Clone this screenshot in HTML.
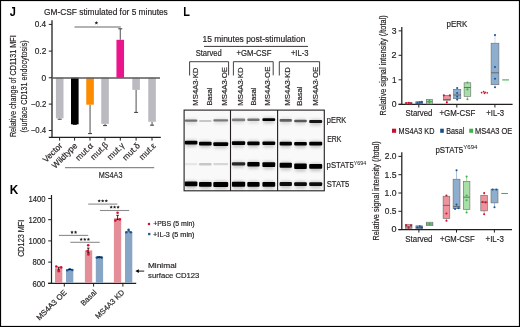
<!DOCTYPE html>
<html><head><meta charset="utf-8"><style>
html,body{margin:0;padding:0;background:#fff;}
svg{display:block;font-family:"Liberation Sans", sans-serif;will-change:transform;}
</style></head><body>
<svg width="520" height="327" viewBox="0 0 520 327">
<text x="9.73" y="16.3" font-size="12" font-weight="bold" fill="#000" stroke="#000" stroke-width="0" textLength="6.12" lengthAdjust="spacingAndGlyphs" >J</text>
<text x="44.08" y="14.6" font-size="8.7" font-weight="normal" fill="#231f20" stroke="#231f20" stroke-width="0.18" textLength="123.71" lengthAdjust="spacingAndGlyphs" >GM-CSF stimulated for 5 minutes</text>
<line x1="52" y1="20.3" x2="52" y2="137.9" stroke="#231f20" stroke-width="1.3" />
<line x1="48.8" y1="24.4" x2="52" y2="24.4" stroke="#231f20" stroke-width="1" />
<text x="34.67" y="27.35" font-size="8.6" font-weight="normal" fill="#231f20" stroke="#231f20" stroke-width="0.18" textLength="11.46" lengthAdjust="spacingAndGlyphs" >0.4</text>
<line x1="48.8" y1="51.1" x2="52" y2="51.1" stroke="#231f20" stroke-width="1" />
<text x="34.66" y="54.05" font-size="8.6" font-weight="normal" fill="#231f20" stroke="#231f20" stroke-width="0.18" textLength="11.66" lengthAdjust="spacingAndGlyphs" >0.2</text>
<line x1="48.8" y1="77.75" x2="52" y2="77.75" stroke="#231f20" stroke-width="1" />
<text x="41.56" y="80.7" font-size="8.6" font-weight="normal" fill="#231f20" stroke="#231f20" stroke-width="0.18" textLength="4.66" lengthAdjust="spacingAndGlyphs" >0</text>
<line x1="48.8" y1="104.1" x2="52" y2="104.1" stroke="#231f20" stroke-width="1" />
<text x="30.81" y="107.05" font-size="8.6" font-weight="normal" fill="#231f20" stroke="#231f20" stroke-width="0.18" textLength="15.5" lengthAdjust="spacingAndGlyphs" >−0.2</text>
<line x1="48.8" y1="130.5" x2="52" y2="130.5" stroke="#231f20" stroke-width="1" />
<text x="30.81" y="133.45" font-size="8.6" font-weight="normal" fill="#231f20" stroke="#231f20" stroke-width="0.18" textLength="15.31" lengthAdjust="spacingAndGlyphs" >−0.4</text>
<line x1="48.8" y1="137.3" x2="160.8" y2="137.3" stroke="#231f20" stroke-width="1.2" />
<line x1="59.6" y1="137.3" x2="59.6" y2="140.6" stroke="#231f20" stroke-width="1" />
<line x1="74.6" y1="137.3" x2="74.6" y2="140.6" stroke="#231f20" stroke-width="1" />
<line x1="90" y1="137.3" x2="90" y2="140.6" stroke="#231f20" stroke-width="1" />
<line x1="105" y1="137.3" x2="105" y2="140.6" stroke="#231f20" stroke-width="1" />
<line x1="120.3" y1="137.3" x2="120.3" y2="140.6" stroke="#231f20" stroke-width="1" />
<line x1="136.1" y1="137.3" x2="136.1" y2="140.6" stroke="#231f20" stroke-width="1" />
<line x1="152" y1="137.3" x2="152" y2="140.6" stroke="#231f20" stroke-width="1" />
<line x1="59.7" y1="118.4" x2="59.7" y2="119.2" stroke="#3a3a3a" stroke-width="0.9" />
<line x1="57.7" y1="119.2" x2="61.7" y2="119.2" stroke="#3a3a3a" stroke-width="1" />
<rect x="55.9" y="77.75" width="7.6" height="40.65" fill="#bbbac0" stroke="none" stroke-width="0" />
<line x1="74.8" y1="124.3" x2="74.8" y2="124.5" stroke="#3a3a3a" stroke-width="0.9" />
<line x1="72.8" y1="124.5" x2="76.8" y2="124.5" stroke="#3a3a3a" stroke-width="1" />
<rect x="71.0" y="77.75" width="7.6" height="46.55" fill="#000" stroke="none" stroke-width="0" />
<line x1="90.05" y1="104.7" x2="90.05" y2="133.6" stroke="#3a3a3a" stroke-width="0.9" />
<line x1="88.05" y1="133.6" x2="92.05" y2="133.6" stroke="#3a3a3a" stroke-width="1" />
<rect x="86.25" y="77.75" width="7.6" height="26.95" fill="#fd8b00" stroke="none" stroke-width="0" />
<line x1="105.05" y1="123.9" x2="105.05" y2="125.6" stroke="#3a3a3a" stroke-width="0.9" />
<line x1="103.05" y1="125.6" x2="107.05" y2="125.6" stroke="#3a3a3a" stroke-width="1" />
<rect x="101.25" y="77.75" width="7.6" height="46.15" fill="#bbbac0" stroke="none" stroke-width="0" />
<line x1="120.25" y1="39.8" x2="120.25" y2="28.8" stroke="#3a3a3a" stroke-width="0.9" />
<line x1="118.25" y1="28.8" x2="122.25" y2="28.8" stroke="#3a3a3a" stroke-width="1" />
<rect x="116.45" y="39.8" width="7.6" height="37.95" fill="#ea148c" stroke="none" stroke-width="0" />
<line x1="136.1" y1="89.9" x2="136.1" y2="112.4" stroke="#3a3a3a" stroke-width="0.9" />
<line x1="134.1" y1="112.4" x2="138.1" y2="112.4" stroke="#3a3a3a" stroke-width="1" />
<rect x="132.3" y="77.75" width="7.6" height="12.15" fill="#bbbac0" stroke="none" stroke-width="0" />
<line x1="152.05" y1="121.8" x2="152.05" y2="125.2" stroke="#3a3a3a" stroke-width="0.9" />
<line x1="150.05" y1="125.2" x2="154.05" y2="125.2" stroke="#3a3a3a" stroke-width="1" />
<rect x="148.25" y="77.75" width="7.6" height="44.05" fill="#bbbac0" stroke="none" stroke-width="0" />
<line x1="52" y1="77.9" x2="160" y2="77.9" stroke="#5a5a5c" stroke-width="1.5" />
<line x1="74.5" y1="26.9" x2="120.8" y2="26.9" stroke="#9a9a9a" stroke-width="1.5" />
<polygon points="96.40,21.00 96.96,22.13 98.21,22.31 97.30,23.19 97.52,24.44 96.40,23.85 95.28,24.44 95.50,23.19 94.59,22.31 95.84,22.13" fill="#231f20"/>
<text id="jx0" transform="translate(62.9,146.2) rotate(-45)" font-size="8.5" text-anchor="end" fill="#231f20" stroke="#231f20" stroke-width="0.18" textLength="23.62" lengthAdjust="spacingAndGlyphs">Vector</text>
<text id="jx1" transform="translate(77.9,146.3) rotate(-45)" font-size="8.5" text-anchor="end" fill="#231f20" stroke="#231f20" stroke-width="0.18" textLength="31.94" lengthAdjust="spacingAndGlyphs">Wildtype</text>
<text id="jx2" transform="translate(93.6,146.3) rotate(-45)" font-size="8.5" text-anchor="end" fill="#231f20" stroke="#231f20" stroke-width="0.18" textLength="21.02" lengthAdjust="spacingAndGlyphs">mut.α</text>
<text id="jx3" transform="translate(108.6,145.6) rotate(-45)" font-size="8.5" text-anchor="end" fill="#231f20" stroke="#231f20" stroke-width="0.18" textLength="20.99" lengthAdjust="spacingAndGlyphs">mut.β</text>
<text id="jx4" transform="translate(125.0,146.1) rotate(-45)" font-size="8.5" text-anchor="end" fill="#231f20" stroke="#231f20" stroke-width="0.18" textLength="20.37" lengthAdjust="spacingAndGlyphs">mut.γ</text>
<text id="jx5" transform="translate(140.6,146.3) rotate(-45)" font-size="8.5" text-anchor="end" fill="#231f20" stroke="#231f20" stroke-width="0.18" textLength="20.84" lengthAdjust="spacingAndGlyphs">mut.δ</text>
<text id="jx6" transform="translate(156.5,146.3) rotate(-45)" font-size="8.5" text-anchor="end" fill="#231f20" stroke="#231f20" stroke-width="0.18" textLength="19.91" lengthAdjust="spacingAndGlyphs">mut.ε</text>
<line x1="65" y1="167.7" x2="154.2" y2="167.7" stroke="#8a8a8a" stroke-width="1.2" />
<text x="98.7" y="177.7" font-size="9.5" font-weight="normal" fill="#231f20" stroke="#231f20" stroke-width="0.18" textLength="23.72" lengthAdjust="spacingAndGlyphs" >MS4A3</text>
<text transform="translate(15.8,137.09) rotate(-90)" font-size="9.4" fill="#231f20" stroke="#231f20" stroke-width="0.18" textLength="101.76" lengthAdjust="spacingAndGlyphs">Relative change of CD1131 MFI</text>
<text transform="translate(26.6,132.55) rotate(-90)" font-size="9.4" fill="#231f20" stroke="#231f20" stroke-width="0.18" textLength="92.19" lengthAdjust="spacingAndGlyphs">(surface CD131 endocytosis)</text>
<text x="9.8" y="193.7" font-size="12" font-weight="bold" fill="#000" stroke="#000" stroke-width="0" textLength="8.51" lengthAdjust="spacingAndGlyphs" >K</text>
<line x1="51.5" y1="195" x2="51.5" y2="283.9" stroke="#231f20" stroke-width="1.2" />
<line x1="48.2" y1="198.5" x2="51.5" y2="198.5" stroke="#231f20" stroke-width="1" />
<text x="28.43" y="201.8" font-size="8.3" font-weight="normal" fill="#231f20" stroke="#231f20" stroke-width="0.18" textLength="16.98" lengthAdjust="spacingAndGlyphs" >1400</text>
<line x1="48.2" y1="219.7" x2="51.5" y2="219.7" stroke="#231f20" stroke-width="1" />
<text x="28.43" y="223.0" font-size="8.3" font-weight="normal" fill="#231f20" stroke="#231f20" stroke-width="0.18" textLength="16.98" lengthAdjust="spacingAndGlyphs" >1200</text>
<line x1="48.2" y1="240.9" x2="51.5" y2="240.9" stroke="#231f20" stroke-width="1" />
<text x="28.43" y="244.2" font-size="8.3" font-weight="normal" fill="#231f20" stroke="#231f20" stroke-width="0.18" textLength="16.98" lengthAdjust="spacingAndGlyphs" >1000</text>
<line x1="48.2" y1="262.1" x2="51.5" y2="262.1" stroke="#231f20" stroke-width="1" />
<text x="32.57" y="265.4" font-size="8.3" font-weight="normal" fill="#231f20" stroke="#231f20" stroke-width="0.18" textLength="12.82" lengthAdjust="spacingAndGlyphs" >800</text>
<line x1="48.2" y1="283.3" x2="51.5" y2="283.3" stroke="#231f20" stroke-width="1" />
<text x="32.51" y="286.6" font-size="8.3" font-weight="normal" fill="#231f20" stroke="#231f20" stroke-width="0.18" textLength="12.88" lengthAdjust="spacingAndGlyphs" >600</text>
<text transform="translate(23.75,256.86) rotate(-90)" font-size="9.0" fill="#231f20" stroke="#231f20" stroke-width="0.18" textLength="37.03" lengthAdjust="spacingAndGlyphs">CD123 MFI</text>
<line x1="48.2" y1="283.3" x2="136.2" y2="283.3" stroke="#231f20" stroke-width="1.2" />
<line x1="64.3" y1="283.3" x2="64.3" y2="286.6" stroke="#231f20" stroke-width="1" />
<line x1="93.6" y1="283.3" x2="93.6" y2="286.6" stroke="#231f20" stroke-width="1" />
<line x1="122.9" y1="283.3" x2="122.9" y2="286.6" stroke="#231f20" stroke-width="1" />
<rect x="55.0" y="268.2" width="7.3" height="14.6" fill="#e38e99" stroke="none" stroke-width="0" />
<rect x="66.0" y="269.5" width="7.3" height="13.3" fill="#87a6c5" stroke="none" stroke-width="0" />
<rect x="84.9" y="250.4" width="7.3" height="32.4" fill="#e38e99" stroke="none" stroke-width="0" />
<rect x="95.8" y="257.0" width="7.3" height="25.8" fill="#87a6c5" stroke="none" stroke-width="0" />
<rect x="113.9" y="218.2" width="7.3" height="64.6" fill="#e38e99" stroke="none" stroke-width="0" />
<rect x="125.0" y="232.0" width="7.3" height="50.8" fill="#87a6c5" stroke="none" stroke-width="0" />
<line x1="58.7" y1="267.2" x2="58.7" y2="270.0" stroke="#000" stroke-width="0.8" />
<line x1="57.400000000000006" y1="267.2" x2="60.0" y2="267.2" stroke="#000" stroke-width="0.8" />
<line x1="57.400000000000006" y1="270.0" x2="60.0" y2="270.0" stroke="#000" stroke-width="0.8" />
<circle cx="56.3" cy="266.5" r="1.3" fill="#d7102f"/>
<circle cx="61.2" cy="267.4" r="1.3" fill="#d7102f"/>
<circle cx="58.8" cy="271.2" r="1.3" fill="#d7102f"/>
<circle cx="67.3" cy="270.2" r="1.3" fill="#1b5597"/>
<circle cx="69.7" cy="269.3" r="1.3" fill="#1b5597"/>
<circle cx="72.3" cy="270.0" r="1.3" fill="#1b5597"/>
<line x1="68.2" y1="269.4" x2="71.6" y2="269.4" stroke="#000" stroke-width="0.9" />
<line x1="88.3" y1="248.1" x2="88.3" y2="252.8" stroke="#000" stroke-width="0.8" />
<line x1="87.0" y1="248.1" x2="89.6" y2="248.1" stroke="#000" stroke-width="0.8" />
<line x1="87.0" y1="252.8" x2="89.6" y2="252.8" stroke="#000" stroke-width="0.8" />
<circle cx="88.2" cy="245.2" r="1.3" fill="#d7102f"/>
<circle cx="87.6" cy="251.0" r="1.3" fill="#d7102f"/>
<circle cx="88.4" cy="254.4" r="1.3" fill="#d7102f"/>
<circle cx="96.9" cy="257.6" r="1.3" fill="#1b5597"/>
<circle cx="99.3" cy="257.2" r="1.3" fill="#1b5597"/>
<circle cx="101.7" cy="257.6" r="1.3" fill="#1b5597"/>
<line x1="97" y1="257.0" x2="101.6" y2="257.0" stroke="#000" stroke-width="0.9" />
<line x1="117.6" y1="215.3" x2="117.6" y2="219.6" stroke="#000" stroke-width="0.8" />
<line x1="116.3" y1="215.3" x2="118.89999999999999" y2="215.3" stroke="#000" stroke-width="0.8" />
<line x1="116.3" y1="219.6" x2="118.89999999999999" y2="219.6" stroke="#000" stroke-width="0.8" />
<circle cx="117.6" cy="212.8" r="1.3" fill="#d7102f"/>
<circle cx="115.3" cy="220.6" r="1.3" fill="#d7102f"/>
<circle cx="119.8" cy="219.4" r="1.3" fill="#d7102f"/>
<circle cx="128.6" cy="229.8" r="1.3" fill="#1b5597"/>
<circle cx="126.3" cy="232.3" r="1.3" fill="#1b5597"/>
<circle cx="130.8" cy="232.3" r="1.3" fill="#1b5597"/>
<line x1="127.3" y1="231.2" x2="130" y2="231.2" stroke="#000" stroke-width="0.8" />
<line x1="58.9" y1="235.4" x2="88.2" y2="235.4" stroke="#8c8c8c" stroke-width="1.1" />
<polygon points="72.00,230.60 72.50,231.61 73.62,231.77 72.81,232.56 73.00,233.68 72.00,233.15 71.00,233.68 71.19,232.56 70.38,231.77 71.50,231.61" fill="#231f20"/>
<polygon points="75.60,230.60 76.10,231.61 77.22,231.77 76.41,232.56 76.60,233.68 75.60,233.15 74.60,233.68 74.79,232.56 73.98,231.77 75.10,231.61" fill="#231f20"/>
<line x1="70.3" y1="242.3" x2="99.7" y2="242.3" stroke="#8c8c8c" stroke-width="1.1" />
<polygon points="81.20,237.70 81.70,238.71 82.82,238.87 82.01,239.66 82.20,240.78 81.20,240.25 80.20,240.78 80.39,239.66 79.58,238.87 80.70,238.71" fill="#231f20"/>
<polygon points="84.80,237.70 85.30,238.71 86.42,238.87 85.61,239.66 85.80,240.78 84.80,240.25 83.80,240.78 83.99,239.66 83.18,238.87 84.30,238.71" fill="#231f20"/>
<polygon points="88.40,237.70 88.90,238.71 90.02,238.87 89.21,239.66 89.40,240.78 88.40,240.25 87.40,240.78 87.59,239.66 86.78,238.87 87.90,238.71" fill="#231f20"/>
<line x1="88.2" y1="204.1" x2="117.4" y2="204.1" stroke="#8c8c8c" stroke-width="1.1" />
<polygon points="99.20,199.20 99.70,200.21 100.82,200.37 100.01,201.16 100.20,202.28 99.20,201.75 98.20,202.28 98.39,201.16 97.58,200.37 98.70,200.21" fill="#231f20"/>
<polygon points="102.70,199.20 103.20,200.21 104.32,200.37 103.51,201.16 103.70,202.28 102.70,201.75 101.70,202.28 101.89,201.16 101.08,200.37 102.20,200.21" fill="#231f20"/>
<polygon points="106.30,199.20 106.80,200.21 107.92,200.37 107.11,201.16 107.30,202.28 106.30,201.75 105.30,202.28 105.49,201.16 104.68,200.37 105.80,200.21" fill="#231f20"/>
<line x1="99.9" y1="210.5" x2="129.2" y2="210.5" stroke="#8c8c8c" stroke-width="1.1" />
<polygon points="111.20,205.50 111.70,206.51 112.82,206.67 112.01,207.46 112.20,208.58 111.20,208.05 110.20,208.58 110.39,207.46 109.58,206.67 110.70,206.51" fill="#231f20"/>
<polygon points="114.60,205.50 115.10,206.51 116.22,206.67 115.41,207.46 115.60,208.58 114.60,208.05 113.60,208.58 113.79,207.46 112.98,206.67 114.10,206.51" fill="#231f20"/>
<polygon points="118.10,205.50 118.60,206.51 119.72,206.67 118.91,207.46 119.10,208.58 118.10,208.05 117.10,208.58 117.29,207.46 116.48,206.67 117.60,206.51" fill="#231f20"/>
<circle cx="149" cy="224" r="1.25" fill="#d7102f"/>
<text x="153.15" y="226.3" font-size="6.4" font-weight="normal" fill="#231f20" stroke="#231f20" stroke-width="0.18" textLength="41.49" lengthAdjust="spacingAndGlyphs" >+PBS (5 min)</text>
<rect x="148.1" y="232.9" width="2.3" height="2.3" fill="#1b5597" stroke="none" stroke-width="0" />
<text x="153.14" y="236.7" font-size="6.4" font-weight="normal" fill="#231f20" stroke="#231f20" stroke-width="0.18" textLength="41.33" lengthAdjust="spacingAndGlyphs" >+IL-3 (5 min)</text>
<line x1="137.2" y1="271.1" x2="144.2" y2="271.1" stroke="#000" stroke-width="0.9" />
<path d="M135.3 271.1 L138.8 269.2 L138.8 273.0 Z" fill="#000"/>
<text x="147.91" y="268.4" font-size="7.9" font-weight="normal" fill="#231f20" stroke="#231f20" stroke-width="0.18" textLength="28.75" lengthAdjust="spacingAndGlyphs" >Minimal</text>
<text x="148.09" y="278.2" font-size="7.9" font-weight="normal" fill="#231f20" stroke="#231f20" stroke-width="0.18" textLength="51.24" lengthAdjust="spacingAndGlyphs" >surface CD123</text>
<text id="kx0" transform="translate(67.2,293.0) rotate(-45)" font-size="7.7" text-anchor="end" fill="#231f20" stroke="#231f20" stroke-width="0.18" textLength="39.29" lengthAdjust="spacingAndGlyphs">MS4A3 OE</text>
<text id="kx1" transform="translate(97.2,292.8) rotate(-45)" font-size="7.6" text-anchor="end" fill="#231f20" stroke="#231f20" stroke-width="0.18" textLength="19.01" lengthAdjust="spacingAndGlyphs">Basal</text>
<text id="kx2" transform="translate(124.9,292.8) rotate(-45)" font-size="7.6" text-anchor="end" fill="#231f20" stroke="#231f20" stroke-width="0.18" textLength="37.59" lengthAdjust="spacingAndGlyphs">MS4A3 KD</text>
<text x="183.16" y="16.0" font-size="12" font-weight="bold" fill="#000" stroke="#000" stroke-width="0" textLength="6.67" lengthAdjust="spacingAndGlyphs" >L</text>
<text x="202.47" y="41.6" font-size="8.5" font-weight="normal" fill="#231f20" stroke="#231f20" stroke-width="0.18" textLength="102.89" lengthAdjust="spacingAndGlyphs" >15 minutes post-stimulation</text>
<line x1="204" y1="46.4" x2="308" y2="46.4" stroke="#231f20" stroke-width="0.9" />
<text x="195.66" y="55.6" font-size="8.6" font-weight="normal" fill="#231f20" stroke="#231f20" stroke-width="0.18" textLength="26.13" lengthAdjust="spacingAndGlyphs" >Starved</text>
<text x="236.51" y="55.6" font-size="8.6" font-weight="normal" fill="#231f20" stroke="#231f20" stroke-width="0.18" textLength="34.9" lengthAdjust="spacingAndGlyphs" >+GM-CSF</text>
<text x="290.92" y="55.6" font-size="8.6" font-weight="normal" fill="#231f20" stroke="#231f20" stroke-width="0.18" textLength="17.62" lengthAdjust="spacingAndGlyphs" >+IL-3</text>
<path d="M189.6 75.5 V61.7 H228.6 V75.3" fill="none" stroke="#231f20" stroke-width="0.85"/>
<path d="M233.4 75.5 V61.7 H273.2 V75.3" fill="none" stroke="#231f20" stroke-width="0.85"/>
<path d="M279.3 75.5 V61.7 H319.6 V75.3" fill="none" stroke="#231f20" stroke-width="0.85"/>
<text transform="translate(197.5,105.63) rotate(-90)" font-size="7.1" fill="#231f20" stroke="#231f20" stroke-width="0.18" textLength="37.99" lengthAdjust="spacingAndGlyphs">MS4A3∙KD</text>
<text transform="translate(211.9,105.6) rotate(-90)" font-size="7.1" fill="#231f20" stroke="#231f20" stroke-width="0.18" textLength="18.08" lengthAdjust="spacingAndGlyphs">Basal</text>
<text transform="translate(226.6,105.64) rotate(-90)" font-size="7.1" fill="#231f20" stroke="#231f20" stroke-width="0.18" textLength="38.66" lengthAdjust="spacingAndGlyphs">MS4A3∙OE</text>
<text transform="translate(242.8,105.64) rotate(-90)" font-size="7.1" fill="#231f20" stroke="#231f20" stroke-width="0.18" textLength="38.2" lengthAdjust="spacingAndGlyphs">MS4A3∙KD</text>
<text transform="translate(255.8,105.6) rotate(-90)" font-size="7.1" fill="#231f20" stroke="#231f20" stroke-width="0.18" textLength="18.08" lengthAdjust="spacingAndGlyphs">Basal</text>
<text transform="translate(270.4,105.64) rotate(-90)" font-size="7.1" fill="#231f20" stroke="#231f20" stroke-width="0.18" textLength="38.97" lengthAdjust="spacingAndGlyphs">MS4A3∙OE</text>
<text transform="translate(289.5,105.64) rotate(-90)" font-size="7.1" fill="#231f20" stroke="#231f20" stroke-width="0.18" textLength="38.61" lengthAdjust="spacingAndGlyphs">MS4A3∙KD</text>
<text transform="translate(302.2,105.63) rotate(-90)" font-size="7.1" fill="#231f20" stroke="#231f20" stroke-width="0.18" textLength="19.14" lengthAdjust="spacingAndGlyphs">Basal</text>
<text transform="translate(317.6,105.64) rotate(-90)" font-size="7.1" fill="#231f20" stroke="#231f20" stroke-width="0.18" textLength="38.87" lengthAdjust="spacingAndGlyphs">MS4A3∙OE</text>
<defs><filter id="bl" x="-20%" y="-150%" width="140%" height="400%"><feGaussianBlur stdDeviation="0.75"/></filter><filter id="bl2" x="-20%" y="-150%" width="140%" height="400%"><feGaussianBlur stdDeviation="1.6"/></filter></defs>
<rect x="184" y="110" width="140.5" height="81" fill="#f9f9f9" stroke="none" stroke-width="0" />
<g filter="url(#bl2)">
<rect x="185.8" y="118.55" width="10.6" height="5.8" fill="rgb(224,224,224)"/>
<rect x="214.3" y="118.25" width="12.9" height="5.8" fill="rgb(226,226,226)"/>
<rect x="232.9" y="117.6" width="11.3" height="6.1" fill="rgb(227,227,227)"/>
<rect x="248.3" y="117.5" width="10.3" height="6.1" fill="rgb(224,224,224)"/>
<rect x="263.4" y="117.2" width="10.8" height="6.3" fill="rgb(199,199,199)"/>
<rect x="280.6" y="117.9" width="10.3" height="6.3" fill="rgb(220,220,220)"/>
<rect x="295.2" y="118.7" width="10.6" height="6.1" fill="rgb(219,219,219)"/>
<rect x="310.2" y="119.1" width="11.0" height="6.5" fill="rgb(205,205,205)"/>
<rect x="185.8" y="139.8" width="10.6" height="7.1" fill="rgb(199,199,199)"/>
<rect x="200.0" y="140.8" width="10.6" height="7.1" fill="rgb(199,199,199)"/>
<rect x="214.3" y="141.2" width="12.9" height="7.3" fill="rgb(199,199,199)"/>
<rect x="232.9" y="140.3" width="11.3" height="7.3" fill="rgb(199,199,199)"/>
<rect x="248.3" y="140.5" width="10.3" height="7.3" fill="rgb(199,199,199)"/>
<rect x="263.4" y="140.4" width="10.8" height="7.1" fill="rgb(199,199,199)"/>
<rect x="280.6" y="140.8" width="10.3" height="7.1" fill="rgb(199,199,199)"/>
<rect x="295.2" y="141.0" width="10.6" height="7.1" fill="rgb(199,199,199)"/>
<rect x="310.2" y="140.8" width="11.0" height="7.1" fill="rgb(199,199,199)"/>
<rect x="232.9" y="161.3" width="11.3" height="6.7" fill="rgb(207,207,207)"/>
<rect x="248.3" y="161.0" width="10.3" height="7.9" fill="rgb(199,199,199)"/>
<rect x="263.4" y="161.3" width="10.8" height="8.1" fill="rgb(199,199,199)"/>
<rect x="280.6" y="161.8" width="10.3" height="8.5" fill="rgb(199,199,199)"/>
<rect x="295.2" y="162.6" width="10.6" height="8.9" fill="rgb(199,199,199)"/>
<rect x="310.2" y="163.1" width="11.0" height="8.1" fill="rgb(199,199,199)"/>
<rect x="185.8" y="180.6" width="10.6" height="8.1" fill="rgb(199,199,199)"/>
<rect x="200.0" y="181.0" width="10.6" height="8.3" fill="rgb(199,199,199)"/>
<rect x="214.3" y="180.9" width="12.9" height="8.5" fill="rgb(199,199,199)"/>
<rect x="232.9" y="180.8" width="11.3" height="8.5" fill="rgb(199,199,199)"/>
<rect x="248.3" y="181.0" width="10.3" height="8.3" fill="rgb(199,199,199)"/>
<rect x="263.4" y="181.1" width="10.8" height="8.1" fill="rgb(199,199,199)"/>
<rect x="280.6" y="181.1" width="10.3" height="7.5" fill="rgb(201,201,201)"/>
<rect x="295.2" y="181.2" width="10.6" height="7.3" fill="rgb(201,201,201)"/>
<rect x="310.2" y="181.3" width="11.0" height="7.1" fill="rgb(202,202,202)"/>
</g>
<g filter="url(#bl)">
<rect x="184.8" y="119.55" width="12.6" height="2.3" rx="1.0" fill="rgb(115,115,115)"/>
<rect x="199.0" y="120.0" width="12.6" height="2.0" rx="1.0" fill="rgb(199,199,199)"/>
<rect x="213.3" y="119.25" width="14.9" height="2.3" rx="1.0" fill="rgb(122,122,122)"/>
<rect x="231.9" y="118.6" width="13.3" height="2.6" rx="1.0" fill="rgb(128,128,128)"/>
<rect x="247.3" y="118.5" width="12.3" height="2.6" rx="1.0" fill="rgb(115,115,115)"/>
<rect x="262.4" y="118.2" width="12.8" height="2.8" rx="1.0" fill="rgb(3,3,3)"/>
<rect x="279.6" y="118.9" width="12.3" height="2.8" rx="1.0" fill="rgb(97,97,97)"/>
<rect x="294.2" y="119.7" width="12.6" height="2.6" rx="1.0" fill="rgb(89,89,89)"/>
<rect x="309.2" y="120.1" width="13.0" height="3.0" rx="1.0" fill="rgb(25,25,25)"/>
<rect x="184.8" y="140.8" width="12.6" height="3.6" rx="1.0" fill="rgb(3,3,3)"/>
<rect x="199.0" y="141.8" width="12.6" height="3.6" rx="1.0" fill="rgb(3,3,3)"/>
<rect x="213.3" y="142.2" width="14.9" height="3.8" rx="1.0" fill="rgb(3,3,3)"/>
<rect x="231.9" y="141.3" width="13.3" height="3.8" rx="1.0" fill="rgb(3,3,3)"/>
<rect x="247.3" y="141.5" width="12.3" height="3.8" rx="1.0" fill="rgb(3,3,3)"/>
<rect x="262.4" y="141.4" width="12.8" height="3.6" rx="1.0" fill="rgb(3,3,3)"/>
<rect x="279.6" y="141.8" width="12.3" height="3.6" rx="1.0" fill="rgb(3,3,3)"/>
<rect x="294.2" y="142.0" width="12.6" height="3.6" rx="1.0" fill="rgb(3,3,3)"/>
<rect x="309.2" y="141.8" width="13.0" height="3.6" rx="1.0" fill="rgb(3,3,3)"/>
<rect x="184.8" y="163.0" width="12.6" height="2.2" rx="1.0" fill="rgb(230,230,230)"/>
<rect x="199.0" y="163.1" width="12.6" height="2.4" rx="1.0" fill="rgb(199,199,199)"/>
<rect x="213.3" y="163.1" width="14.9" height="2.2" rx="1.0" fill="rgb(214,214,214)"/>
<rect x="231.9" y="162.3" width="13.3" height="3.2" rx="1.0" fill="rgb(38,38,38)"/>
<rect x="247.3" y="162.0" width="12.3" height="4.4" rx="1.0" fill="rgb(3,3,3)"/>
<rect x="262.4" y="162.3" width="12.8" height="4.6" rx="1.0" fill="rgb(3,3,3)"/>
<rect x="279.6" y="162.8" width="12.3" height="5.0" rx="1.0" fill="rgb(3,3,3)"/>
<rect x="294.2" y="163.6" width="12.6" height="5.4" rx="1.0" fill="rgb(3,3,3)"/>
<rect x="309.2" y="164.1" width="13.0" height="4.6" rx="1.0" fill="rgb(3,3,3)"/>
<rect x="184.8" y="181.6" width="12.6" height="4.6" rx="1.0" fill="rgb(3,3,3)"/>
<rect x="199.0" y="182.0" width="12.6" height="4.8" rx="1.0" fill="rgb(3,3,3)"/>
<rect x="213.3" y="181.9" width="14.9" height="5.0" rx="1.0" fill="rgb(3,3,3)"/>
<rect x="231.9" y="181.8" width="13.3" height="5.0" rx="1.0" fill="rgb(3,3,3)"/>
<rect x="247.3" y="182.0" width="12.3" height="4.8" rx="1.0" fill="rgb(3,3,3)"/>
<rect x="262.4" y="182.1" width="12.8" height="4.6" rx="1.0" fill="rgb(3,3,3)"/>
<rect x="279.6" y="182.1" width="12.3" height="4.0" rx="1.0" fill="rgb(8,8,8)"/>
<rect x="294.2" y="182.2" width="12.6" height="3.8" rx="1.0" fill="rgb(8,8,8)"/>
<rect x="309.2" y="182.3" width="13.0" height="3.6" rx="1.0" fill="rgb(13,13,13)"/>
</g>
<rect x="184.1" y="110.1" width="140.2" height="80.7" fill="none" stroke="#231f20" stroke-width="1.1"/>
<line x1="230.5" y1="110" x2="230.5" y2="191" stroke="#231f20" stroke-width="1.1" />
<line x1="277.6" y1="110" x2="277.6" y2="191" stroke="#231f20" stroke-width="1.1" />
<text x="326.82" y="123.25" font-size="8.6" font-weight="normal" fill="#231f20" stroke="#231f20" stroke-width="0.18" textLength="19.37" lengthAdjust="spacingAndGlyphs" >pERK</text>
<text x="327.13" y="141.75" font-size="8.6" font-weight="normal" fill="#231f20" stroke="#231f20" stroke-width="0.18" textLength="14.25" lengthAdjust="spacingAndGlyphs" >ERK</text>
<text x="326.6" y="168.0" font-size="8.6" font-weight="normal" fill="#231f20" stroke="#231f20" stroke-width="0.18" textLength="27.13" lengthAdjust="spacingAndGlyphs" >pSTAT5</text>
<text x="353.78" y="165.3" font-size="5.8" font-weight="normal" fill="#231f20" stroke="#231f20" stroke-width="0.05" textLength="12.47" lengthAdjust="spacingAndGlyphs" >Y694</text>
<text x="326.76" y="186.6" font-size="8.6" font-weight="normal" fill="#231f20" stroke="#231f20" stroke-width="0.18" textLength="22.55" lengthAdjust="spacingAndGlyphs" >STAT5</text>
<text transform="translate(386.3,115.41) rotate(-90)" font-size="9.0" fill="#231f20" stroke="#231f20" stroke-width="0.18" textLength="100.07" lengthAdjust="spacingAndGlyphs">Relative signal intensity (/total)</text>
<line x1="401.8" y1="26.9" x2="401.8" y2="104.9" stroke="#231f20" stroke-width="1.25" />
<line x1="398.6" y1="30.85" x2="401.8" y2="30.85" stroke="#231f20" stroke-width="1" />
<text x="391.68" y="33.6" font-size="8.6" font-weight="normal" fill="#231f20" stroke="#231f20" stroke-width="0.18" textLength="4.8" lengthAdjust="spacingAndGlyphs" >3</text>
<line x1="398.6" y1="55.3" x2="401.8" y2="55.3" stroke="#231f20" stroke-width="1" />
<text x="391.55" y="58.05" font-size="8.6" font-weight="normal" fill="#231f20" stroke="#231f20" stroke-width="0.18" textLength="5.01" lengthAdjust="spacingAndGlyphs" >2</text>
<line x1="398.6" y1="79.8" x2="401.8" y2="79.8" stroke="#231f20" stroke-width="1" />
<text x="391.99" y="82.55" font-size="8.6" font-weight="normal" fill="#231f20" stroke="#231f20" stroke-width="0.18" textLength="4.5" lengthAdjust="spacingAndGlyphs" >1</text>
<line x1="398.6" y1="104.3" x2="401.8" y2="104.3" stroke="#231f20" stroke-width="1" />
<text x="391.66" y="107.05" font-size="8.6" font-weight="normal" fill="#231f20" stroke="#231f20" stroke-width="0.18" textLength="4.78" lengthAdjust="spacingAndGlyphs" >0</text>
<line x1="398.6" y1="104.3" x2="512.6" y2="104.3" stroke="#231f20" stroke-width="1.25" />
<line x1="418.8" y1="104.3" x2="418.8" y2="107.5" stroke="#231f20" stroke-width="1" />
<line x1="456.8" y1="104.3" x2="456.8" y2="107.5" stroke="#231f20" stroke-width="1" />
<line x1="494.9" y1="104.3" x2="494.9" y2="107.5" stroke="#231f20" stroke-width="1" />
<text x="446.58" y="27.1" font-size="8.5" font-weight="normal" fill="#231f20" stroke="#231f20" stroke-width="0.18" textLength="20.82" lengthAdjust="spacingAndGlyphs" >pERK</text>
<text x="405.55" y="116.2" font-size="8.6" font-weight="normal" fill="#231f20" stroke="#231f20" stroke-width="0.18" textLength="26.85" lengthAdjust="spacingAndGlyphs" >Starved</text>
<text x="439.51" y="116.2" font-size="8.6" font-weight="normal" fill="#231f20" stroke="#231f20" stroke-width="0.18" textLength="35.71" lengthAdjust="spacingAndGlyphs" >+GM-CSF</text>
<text x="486.31" y="116.3" font-size="8.6" font-weight="normal" fill="#231f20" stroke="#231f20" stroke-width="0.18" textLength="17.83" lengthAdjust="spacingAndGlyphs" >+IL-3</text>
<rect x="405.2" y="102.6" width="6.8" height="1.4" fill="#ed939d" stroke="#6a6a6a" stroke-width="0.6" />
<circle cx="406.4" cy="103.3" r="1.05" fill="#d4102a"/>
<circle cx="408.9" cy="102.9" r="1.05" fill="#d4102a"/>
<circle cx="411.0" cy="103.4" r="1.05" fill="#d4102a"/>
<rect x="415.8" y="101.7" width="6.9" height="2.3" fill="#8eaed0" stroke="#6a6a6a" stroke-width="0.6" />
<line x1="415.8" y1="103.2" x2="422.7" y2="103.2" stroke="#555" stroke-width="0.8" />
<circle cx="417.45" cy="103.0" r="1.05" fill="#1a5699"/>
<circle cx="419.75" cy="102.4" r="1.05" fill="#1a5699"/>
<circle cx="421.85" cy="101.9" r="1.05" fill="#1a5699"/>
<rect x="426.4" y="99.3" width="6.0" height="4.7" fill="#a8dea8" stroke="#6a6a6a" stroke-width="0.6" />
<line x1="426.4" y1="101.8" x2="432.4" y2="101.8" stroke="#555" stroke-width="0.8" />
<circle cx="429.4" cy="100.5" r="1.05" fill="#3cb44b"/>
<circle cx="429.4" cy="102.8" r="1.05" fill="#3cb44b"/>
<line x1="446.85" y1="100.2" x2="446.85" y2="102.4" stroke="#c98088" stroke-width="0.7" />
<rect x="443.3" y="95.3" width="7.1" height="4.9" fill="#ed939d" stroke="#6a6a6a" stroke-width="0.6" />
<line x1="443.3" y1="99.6" x2="450.4" y2="99.6" stroke="#555" stroke-width="0.8" />
<circle cx="443.85" cy="95.4" r="1.05" fill="#d4102a"/>
<circle cx="449.85" cy="95.4" r="1.05" fill="#d4102a"/>
<circle cx="446.85" cy="102.4" r="1.05" fill="#d4102a"/>
<line x1="457.20000000000005" y1="87.8" x2="457.20000000000005" y2="89.3" stroke="#8aa6c4" stroke-width="0.7" />
<line x1="457.20000000000005" y1="98.7" x2="457.20000000000005" y2="100" stroke="#8aa6c4" stroke-width="0.7" />
<rect x="453.6" y="89.3" width="7.2" height="9.4" fill="#8eaed0" stroke="#6a6a6a" stroke-width="0.6" />
<line x1="453.6" y1="95" x2="460.8" y2="95" stroke="#555" stroke-width="0.8" />
<circle cx="457.2" cy="88" r="1.05" fill="#1a5699"/>
<circle cx="457.2" cy="93" r="1.05" fill="#1a5699"/>
<circle cx="457.2" cy="96.6" r="1.05" fill="#1a5699"/>
<circle cx="457.2" cy="99.6" r="1.05" fill="#1a5699"/>
<line x1="467.45000000000005" y1="82.4" x2="467.45000000000005" y2="82.8" stroke="#8cc98c" stroke-width="0.7" />
<line x1="467.45000000000005" y1="96.3" x2="467.45000000000005" y2="99.3" stroke="#8cc98c" stroke-width="0.7" />
<rect x="464.1" y="82.8" width="6.7" height="13.5" fill="#a8dea8" stroke="#6a6a6a" stroke-width="0.6" />
<line x1="464.1" y1="87.5" x2="470.8" y2="87.5" stroke="#555" stroke-width="0.8" />
<circle cx="467.45" cy="82.6" r="1.05" fill="#3cb44b"/>
<circle cx="467.45" cy="89.4" r="1.05" fill="#3cb44b"/>
<circle cx="467.45" cy="99.3" r="1.05" fill="#3cb44b"/>
<circle cx="481.6" cy="92.6" r="0.85" fill="#d4102a"/>
<circle cx="483.6" cy="91.6" r="0.85" fill="#d4102a"/>
<circle cx="485.2" cy="92.4" r="0.85" fill="#d4102a"/>
<circle cx="487.2" cy="92.8" r="0.85" fill="#d4102a"/>
<circle cx="484.4" cy="93.3" r="0.85" fill="#d4102a"/>
<line x1="495.0" y1="35.1" x2="495.0" y2="43.2" stroke="#b9cde0" stroke-width="0.7" />
<line x1="495.0" y1="84.7" x2="495.0" y2="87.2" stroke="#b9cde0" stroke-width="0.7" />
<rect x="491.1" y="43.2" width="7.8" height="41.5" fill="#8eaed0" stroke="#6a6a6a" stroke-width="0.6" />
<line x1="491.1" y1="72.8" x2="498.9" y2="72.8" stroke="#555" stroke-width="0.8" />
<circle cx="495.0" cy="35.1" r="1.05" fill="#1a5699"/>
<circle cx="495.0" cy="67" r="1.05" fill="#1a5699"/>
<circle cx="495.0" cy="78.7" r="1.05" fill="#1a5699"/>
<circle cx="495.0" cy="87.2" r="1.05" fill="#1a5699"/>
<line x1="502.2" y1="79.9" x2="509" y2="79.9" stroke="#3cb44b" stroke-width="1.1" />
<rect x="392" y="128.7" width="4.1" height="4.1" fill="#c8102e" stroke="none" stroke-width="0" />
<text x="398.6" y="133.5" font-size="8.3" font-weight="normal" fill="#231f20" stroke="#231f20" stroke-width="0.18" textLength="35.83" lengthAdjust="spacingAndGlyphs" >MS4A3 KD</text>
<rect x="440.2" y="128.7" width="3.6" height="4.1" fill="#134f8c" stroke="none" stroke-width="0" />
<text x="446.31" y="133.5" font-size="8.3" font-weight="normal" fill="#231f20" stroke="#231f20" stroke-width="0.18" textLength="17.97" lengthAdjust="spacingAndGlyphs" >Basal</text>
<rect x="469.2" y="128.7" width="3.9" height="4.1" fill="#3cb44b" stroke="none" stroke-width="0" />
<text x="475.09" y="133.5" font-size="8.3" font-weight="normal" fill="#231f20" stroke="#231f20" stroke-width="0.18" textLength="37.23" lengthAdjust="spacingAndGlyphs" >MS4A3 OE</text>
<text transform="translate(378.7,240.6) rotate(-90)" font-size="9.0" fill="#231f20" stroke="#231f20" stroke-width="0.18" textLength="99.36" lengthAdjust="spacingAndGlyphs">Relative signal intensity (/total)</text>
<line x1="401.8" y1="152.3" x2="401.8" y2="230.0" stroke="#231f20" stroke-width="1.25" />
<line x1="398.4" y1="156.4" x2="401.8" y2="156.4" stroke="#231f20" stroke-width="1" />
<text x="384.78" y="159.25" font-size="8.5" font-weight="normal" fill="#231f20" stroke="#231f20" stroke-width="0.18" textLength="11.74" lengthAdjust="spacingAndGlyphs" >2.0</text>
<line x1="398.4" y1="174.7" x2="401.8" y2="174.7" stroke="#231f20" stroke-width="1" />
<text x="384.55" y="177.55" font-size="8.5" font-weight="normal" fill="#231f20" stroke="#231f20" stroke-width="0.18" textLength="11.99" lengthAdjust="spacingAndGlyphs" >1.5</text>
<line x1="398.4" y1="193.0" x2="401.8" y2="193.0" stroke="#231f20" stroke-width="1" />
<text x="384.55" y="195.85" font-size="8.5" font-weight="normal" fill="#231f20" stroke="#231f20" stroke-width="0.18" textLength="11.97" lengthAdjust="spacingAndGlyphs" >1.0</text>
<line x1="398.4" y1="211.3" x2="401.8" y2="211.3" stroke="#231f20" stroke-width="1" />
<text x="384.86" y="214.15" font-size="8.5" font-weight="normal" fill="#231f20" stroke="#231f20" stroke-width="0.18" textLength="11.67" lengthAdjust="spacingAndGlyphs" >0.5</text>
<line x1="398.4" y1="229.6" x2="401.8" y2="229.6" stroke="#231f20" stroke-width="1" />
<text x="391.54" y="232.45" font-size="8.5" font-weight="normal" fill="#231f20" stroke="#231f20" stroke-width="0.18" textLength="5.01" lengthAdjust="spacingAndGlyphs" >0</text>
<line x1="398.4" y1="229.6" x2="512" y2="229.6" stroke="#231f20" stroke-width="1.25" />
<line x1="418.9" y1="229.6" x2="418.9" y2="232.6" stroke="#231f20" stroke-width="1" />
<line x1="456.5" y1="229.6" x2="456.5" y2="232.6" stroke="#231f20" stroke-width="1" />
<line x1="494.4" y1="229.6" x2="494.4" y2="232.6" stroke="#231f20" stroke-width="1" />
<text x="435.49" y="152.9" font-size="8.5" font-weight="normal" fill="#231f20" stroke="#231f20" stroke-width="0.18" textLength="27.74" lengthAdjust="spacingAndGlyphs" >pSTAT5</text>
<text x="463.26" y="149.2" font-size="5.9" font-weight="normal" fill="#231f20" stroke="#231f20" stroke-width="0.05" textLength="14.21" lengthAdjust="spacingAndGlyphs" >Y694</text>
<text x="405.35" y="242.2" font-size="8.6" font-weight="normal" fill="#231f20" stroke="#231f20" stroke-width="0.18" textLength="27.16" lengthAdjust="spacingAndGlyphs" >Starved</text>
<text x="439.92" y="242.2" font-size="8.6" font-weight="normal" fill="#231f20" stroke="#231f20" stroke-width="0.18" textLength="34.79" lengthAdjust="spacingAndGlyphs" >+GM-CSF</text>
<text x="485.5" y="242.3" font-size="8.6" font-weight="normal" fill="#231f20" stroke="#231f20" stroke-width="0.18" textLength="18.35" lengthAdjust="spacingAndGlyphs" >+IL-3</text>
<rect x="405.3" y="224.6" width="6.7" height="3.7" fill="#ed939d" stroke="#6a6a6a" stroke-width="0.6" />
<line x1="405.3" y1="226.8" x2="412.0" y2="226.8" stroke="#555" stroke-width="0.8" />
<circle cx="406.25" cy="225.2" r="1.05" fill="#d4102a"/>
<circle cx="411.05" cy="225.2" r="1.05" fill="#d4102a"/>
<circle cx="408.65" cy="227.6" r="1.05" fill="#d4102a"/>
<rect x="415.9" y="225.8" width="6.6" height="2.9" fill="#8eaed0" stroke="#6a6a6a" stroke-width="0.6" />
<line x1="415.9" y1="227.6" x2="422.5" y2="227.6" stroke="#555" stroke-width="0.8" />
<circle cx="417.4" cy="227.2" r="1.05" fill="#1a5699"/>
<circle cx="419.8" cy="226.4" r="1.05" fill="#1a5699"/>
<circle cx="421.8" cy="227.4" r="1.05" fill="#1a5699"/>
<rect x="426.3" y="222.2" width="6.6" height="3.5" fill="#a8dea8" stroke="#6a6a6a" stroke-width="0.6" />
<line x1="426.3" y1="224.0" x2="432.9" y2="224.0" stroke="#555" stroke-width="0.8" />
<circle cx="429.6" cy="223.2" r="1.05" fill="#3cb44b"/>
<circle cx="429.6" cy="224.6" r="1.05" fill="#3cb44b"/>
<line x1="446.45000000000005" y1="195.5" x2="446.45000000000005" y2="196.2" stroke="#c98088" stroke-width="0.7" />
<line x1="446.45000000000005" y1="218.5" x2="446.45000000000005" y2="220.8" stroke="#c98088" stroke-width="0.7" />
<rect x="443.1" y="196.2" width="6.7" height="22.3" fill="#ed939d" stroke="#6a6a6a" stroke-width="0.6" />
<line x1="443.1" y1="205.4" x2="449.8" y2="205.4" stroke="#555" stroke-width="0.8" />
<circle cx="446.45" cy="195.5" r="1.05" fill="#d4102a"/>
<circle cx="446.45" cy="213.5" r="1.05" fill="#d4102a"/>
<circle cx="446.45" cy="220.8" r="1.05" fill="#d4102a"/>
<line x1="456.55" y1="170.3" x2="456.55" y2="179.2" stroke="#8aa6c4" stroke-width="0.7" />
<rect x="453.1" y="179.2" width="6.9" height="29.5" fill="#8eaed0" stroke="#6a6a6a" stroke-width="0.6" />
<line x1="453.1" y1="206.6" x2="460.0" y2="206.6" stroke="#555" stroke-width="0.8" />
<circle cx="456.55" cy="170.3" r="1.05" fill="#1a5699"/>
<circle cx="456.55" cy="204.6" r="1.05" fill="#1a5699"/>
<circle cx="455.05" cy="209" r="1.05" fill="#1a5699"/>
<circle cx="458.35" cy="208.2" r="1.05" fill="#1a5699"/>
<line x1="466.6" y1="176.6" x2="466.6" y2="181.3" stroke="#8cc98c" stroke-width="0.7" />
<line x1="466.6" y1="209.4" x2="466.6" y2="212.5" stroke="#8cc98c" stroke-width="0.7" />
<rect x="463.3" y="181.3" width="6.6" height="28.1" fill="#a8dea8" stroke="#6a6a6a" stroke-width="0.6" />
<line x1="463.3" y1="197.2" x2="469.9" y2="197.2" stroke="#555" stroke-width="0.8" />
<circle cx="466.6" cy="176.6" r="1.05" fill="#3cb44b"/>
<circle cx="466.6" cy="195.5" r="1.05" fill="#3cb44b"/>
<circle cx="466.6" cy="200.3" r="1.05" fill="#3cb44b"/>
<circle cx="466.6" cy="212.5" r="1.05" fill="#3cb44b"/>
<line x1="484.15" y1="193.0" x2="484.15" y2="195.3" stroke="#c98088" stroke-width="0.7" />
<line x1="484.15" y1="210.9" x2="484.15" y2="214.2" stroke="#c98088" stroke-width="0.7" />
<rect x="480.8" y="195.3" width="6.7" height="15.6" fill="#ed939d" stroke="#6a6a6a" stroke-width="0.6" />
<line x1="480.8" y1="202.2" x2="487.5" y2="202.2" stroke="#555" stroke-width="0.8" />
<circle cx="484.15" cy="193" r="1.05" fill="#d4102a"/>
<circle cx="482.65" cy="202" r="1.05" fill="#d4102a"/>
<circle cx="485.65" cy="202.4" r="1.05" fill="#d4102a"/>
<circle cx="484.15" cy="214.2" r="1.05" fill="#d4102a"/>
<line x1="494.5" y1="202.9" x2="494.5" y2="207.2" stroke="#8aa6c4" stroke-width="0.7" />
<rect x="491.0" y="189.2" width="7.0" height="13.7" fill="#8eaed0" stroke="#6a6a6a" stroke-width="0.6" />
<circle cx="492.7" cy="189.6" r="1.05" fill="#1a5699"/>
<circle cx="496.3" cy="189.6" r="1.05" fill="#1a5699"/>
<circle cx="494.5" cy="207.2" r="1.05" fill="#1a5699"/>
<line x1="501.3" y1="193.5" x2="507.9" y2="193.5" stroke="#3cb44b" stroke-width="1.1" />
<rect x="0.5" y="0.5" width="519" height="326" fill="none" stroke="#000" stroke-width="1.2"/>
</svg>
</body></html>
